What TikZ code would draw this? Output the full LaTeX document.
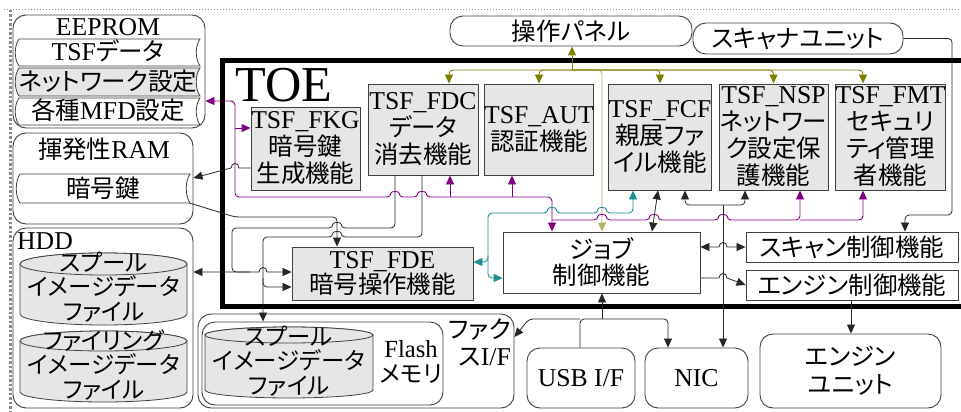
\documentclass[tikz,border=0pt]{standalone}
\usepackage{fontspec}
\setmainfont{Liberation Serif}[Scale=1.07]
\newfontfamily\jp[RawFeature={+palt},Scale=1.02]{Noto Sans CJK JP}
\usetikzlibrary{arrows.meta}
\newcommand{\J}[1]{{\jp #1}}
\definecolor{olv}{HTML}{808000}
\definecolor{prp}{HTML}{800080}
\definecolor{tlc}{HTML}{17908F}
\definecolor{bord}{HTML}{404040}
\definecolor{gfill}{HTML}{E6E6E6}
% hops: rightward / leftward
\newcommand{\hopR}[2]{-- ({#1-4},#2) .. controls ({#1-4},{#2-6}) and ({#1+4},{#2-6}) .. ({#1+4},#2)}
\newcommand{\hopL}[2]{-- ({#1+4},#2) .. controls ({#1+4},{#2-6}) and ({#1-4},{#2-6}) .. ({#1-4},#2)}
% banner: x0 y0 x1 y1
\newcommand{\bannerpath}[4]{({#1+4},#2) -- (#3,#2) .. controls ({#3-5},{#2+7}) and ({#3-5},{#4-7}) .. (#3,#4) -- ({#1+4},#4) .. controls ({#1-1},{#4-7}) and ({#1-1},{#2+7}) .. ({#1+4},#2) -- cycle}
% cylinder: cx rx ytop ybot ry
\newcommand{\cyl}[5]{%
  \draw[cylst] ({#1-#2},#3) -- ({#1-#2},#4) arc[start angle=180,end angle=360,x radius=#2pt,y radius=#5pt] -- ({#1+#2},#3) arc[start angle=0,end angle=180,x radius=#2pt,y radius=#5pt] -- cycle;
  \draw[cylst] (#1,#3) ellipse[x radius=#2pt,y radius=#5pt];}
\begin{document}
\begin{tikzpicture}[x=1pt,y=-1pt,
  font=\fontsize{24}{27}\selectfont,
  >={Triangle[length=9pt,width=8pt]},
  tsfbox/.style={draw=bord,fill=gfill,line width=0.9pt,inner sep=0pt,align=center},
  wbox/.style={draw=bord,fill=white,line width=0.9pt,inner sep=0pt,align=center},
  rbox/.style={wbox,rounded corners=13pt},
  bann/.style={draw=bord,line width=0.8pt},
  cylst/.style={draw=bord,fill=gfill,line width=0.8pt},
  blk/.style={draw=black!85,line width=0.8pt},
  olvs/.style={draw=olv,line width=0.9pt},
  olvl/.style={draw=olv!60,line width=0.9pt},
  prps/.style={draw=prp,line width=0.9pt},
  tls/.style={draw=tlc,line width=0.9pt},
  rc/.style={rounded corners=4pt},
  cyltxt/.style={align=center,font=\jp\fontsize{23}{24.5}\selectfont,inner sep=0pt}
]
\useasboundingbox (0,0) rectangle (961,412);

% dotted frame
\draw[black!45,dotted,line width=1pt] (4,10) -- (961,10);
\draw[black!45,dotted,line width=2.5pt] (10.5,10) -- (10.5,412);

% ---------- EEPROM ----------
\node[rbox,minimum width=192pt,minimum height=113pt] (eeprom) at (109,71.5) {};
\node[inner sep=0pt] (eepromt) at (108,27) {EEPROM};
\draw[bann,fill=white] \bannerpath{15}{39}{200}{66};
\draw[bann,fill=gfill] \bannerpath{15}{68}{200}{96};
\draw[bann,fill=white] \bannerpath{15}{98}{200}{125};
\node[inner sep=0pt] (tsfd) at (108,51) {TSF\J{データ}};
\node[inner sep=0pt] (nets) at (108,81) {\J{ネットワーク設定}};
\node[inner sep=0pt] (mfds) at (108,110) {\J{各種}MFD\J{設定}};

% ---------- RAM ----------
\node[rbox,minimum width=180pt,minimum height=91pt] (ram) at (103,178.5) {};
\node[inner sep=0pt] (ramt) at (104,149) {\J{揮発性}RAM};
\draw[bann,fill=white] \bannerpath{16}{174}{190}{203};
\node[minimum width=174pt,minimum height=29pt,inner sep=0pt] (key) at (103,188.5) {\J{暗号鍵}};

% ---------- HDD ----------
\node[rbox,minimum width=180pt,minimum height=180pt] (hdd) at (103,318) {};
\node[anchor=west,inner sep=0pt] (hddt) at (17,241) {HDD};
\cyl{103.5}{83.5}{264}{314}{11}
\node[cyltxt] (spool1) at (103.5,287) {スプール\\イメージデータ\\ファイル};
\cyl{103.5}{83.5}{341}{392}{10}
\node[cyltxt] (filing) at (103.5,365) {ファイリング\\イメージデータ\\ファイル};

% ---------- TOE ----------
\draw[line width=5pt] (222,61) rectangle (985,306);
\node[inner sep=0pt] (toet) at (284,85) {\fontsize{47}{47}\selectfont TOE};

% ---------- TSF boxes ----------
\node[tsfbox,minimum width=109pt,minimum height=83pt] (fkg) at (305.5,148.5) {TSF\_FKG\\\J{暗号鍵}\\\J{生成機能}};
\node[tsfbox,minimum width=110pt,minimum height=91pt] (fdc) at (423,129.5) {TSF\_FDC\\\J{データ}\\\J{消去機能}};
\node[tsfbox,minimum width=108pt,minimum height=91pt] (aut) at (539,129.5) {TSF\_AUT\\\J{認証機能}};
\node[tsfbox,minimum width=102pt,minimum height=106pt] (fcf) at (660,137) {TSF\_FCF\\\J{親展ファ}\\\J{イル機能}};
\node[tsfbox,minimum width=109pt,minimum height=106pt] (nsp) at (773.5,137) {TSF\_NSP\\\J{ネットワー}\\\J{ク設定保}\\\J{護機能}};
\node[tsfbox,minimum width=109pt,minimum height=106pt] (fmt) at (890.5,137) {TSF\_FMT\\\J{セキュリ}\\\J{ティ管理}\\\J{者機能}};
\node[tsfbox,minimum width=181pt,minimum height=53pt,font=\fontsize{24}{25}\selectfont] (fde) at (382.5,273.5) {TSF\_FDE\\\J{暗号操作機能}};

% ---------- other boxes ----------
\node[rbox,minimum width=242pt,minimum height=30pt] (panel) at (571,31) {\J{操作パネル}};
\node[rbox,minimum width=210pt,minimum height=31pt] (scanner) at (798,38.5) {\J{スキャナユニット}};
\node[wbox,minimum width=197pt,minimum height=61pt,font=\fontsize{24}{26}\selectfont] (job) at (601.5,262.5) {\J{ジョブ}\\\J{制御機能}};
\node[wbox,minimum width=212pt,minimum height=30pt] (scanctl) at (852,247) {\J{スキャン制御機能}};
\node[wbox,minimum width=212pt,minimum height=30pt] (engctl) at (852,285) {\J{エンジン制御機能}};

\node[rbox,minimum width=316pt,minimum height=94pt] (fax) at (356,361) {};
\node[rbox,minimum width=241pt,minimum height=83pt] (flash) at (322.5,363.5) {};
\cyl{289}{84}{335}{390}{8}
\node[cyltxt] (spool2) at (289,361) {スプール\\イメージデータ\\ファイル};
\node[align=center,inner sep=0pt,font=\fontsize{23}{25.5}\selectfont] (flasht) at (411,362) {Flash\\\J{メモリ}};
\node[align=right,anchor=east,inner sep=0pt] (faxt) at (511,342) {\J{ファク}\\\J{ス}I/F};

\node[rbox,minimum width=108pt,minimum height=60pt] (usb) at (581,378) {USB I/F};
\node[rbox,minimum width=103pt,minimum height=60pt] (nic) at (696.5,378) {NIC};
\node[rbox,minimum width=181pt,minimum height=74pt,font=\fontsize{24}{28}\selectfont] (engunit) at (850.5,371) {\J{エンジン}\\\J{ユニット}};

% ---------- olive connectors ----------
\coordinate (ob) at (572,70);
\draw[olvl,->,rc] (ob) -| (602,0 |- job.north);
\draw[olvs,->] (ob) -- (ob |- panel.south);
\draw[olvs,->,rc] (ob) -| (449,0 |- fdc.north);
\draw[olvs,->,rc] (ob) -| (aut.north);
\draw[olvs,->,rc] (ob) -| (fcf.north);
\draw[olvs,->,rc] (ob) -| (nsp.north);
\draw[olvs,->,rc] (ob) -| (863,0 |- fmt.north);

% ---------- purple connectors ----------
\coordinate (pj1) at (552,220);
\draw[prps,<->,rc] (eeprom.east |- 0,101) -- (235,101) -- (235,197) \hopR{395}{197} \hopR{422}{197} -- (552,197) -- (552,0 |- job.north);
\draw[prps,->] (235,128) -- (fkg.west |- 0,128);
\draw[prps,->] (450,197) -- (450,0 |- fdc.south);
\draw[prps,->] (512,197) -- (512,0 |- aut.south);
\draw[prps,->,rc] (pj1) \hopR{602}{220} \hopR{654}{220} \hopR{723}{220} -- (800,220) -- (800,0 |- nsp.south);
\draw[prps,->,rc] (800,220) -- (863,220) -- (863,0 |- fmt.south);

% ---------- teal connectors ----------
\draw[tls,<->,rc] (633,0 |- fcf.south) -- (633,213) \hopL{602}{213} \hopL{552}{213} -- (488,213) -- (488,262) -- (fde.east |- 0,262);
\draw[tls,->,rc] (488,255) -- (488,278) -- (job.west |- 0,278);

% ---------- black connectors ----------
\draw[blk,->] (fkg.west |- 0,168) \hopL{235}{168} -- (ram.east |- 0,178);
\draw[blk,->,rc] (key.south east) -- (235,217) -- (337,217) -- (337,0 |- fde.north);
\draw[blk,rc] (395,0 |- fdc.south) -- (395,228) \hopL{337}{228} -- (232,228) -- (232,272) -- (250,272);
\draw[blk,<->] (hdd.east |- 0,272) \hopR{263}{272} -- (fde.west |- 0,272);
\draw[blk,->,rc] (422,0 |- fdc.south) -- (422,237) \hopL{337}{237} -- (263,237) -- (263,0 |- flash.north);
\draw[blk,->,rc] (263,278) -- (263,287) -- (fde.west |- 0,287);
\draw[blk,<->] (job.east |- 0,247) \hopR{723}{247} -- (scanctl.west |- 0,247);
\draw[blk,->] (job.east |- 0,278) \hopR{723}{278} -- (engctl.west);
\draw[blk,<->] (658,0 |- fcf.south) -- (652,0 |- job.north);
\coordinate (nj) at (723,205);
\draw[blk,->] (nj) -- (nj |- nic.north);
\draw[blk,->,rc] (nj) -| (685,0 |- fcf.south);
\draw[blk,->,rc] (nj) -| (745,0 |- nsp.south);
\draw[blk,->,rc] (scanner.east) -- (952,0 |- scanner.east) -- (952,215) -- (905,215) -- (905,0 |- scanctl.north);
\draw[blk,->] (851,0 |- engctl.south) -- (851,0 |- engunit.north);
\coordinate (uj) at (602,319);
\draw[blk,->,rc] (580,0 |- usb.north) -- (580,319) -- (668,319) -- (668,0 |- nic.north);
\draw[blk,->] (uj) -- (uj |- job.south);
\draw[blk,->,rc] (580,319) -- (529,319) -- (fax.east |- 0,337);
\end{tikzpicture}
\end{document}
